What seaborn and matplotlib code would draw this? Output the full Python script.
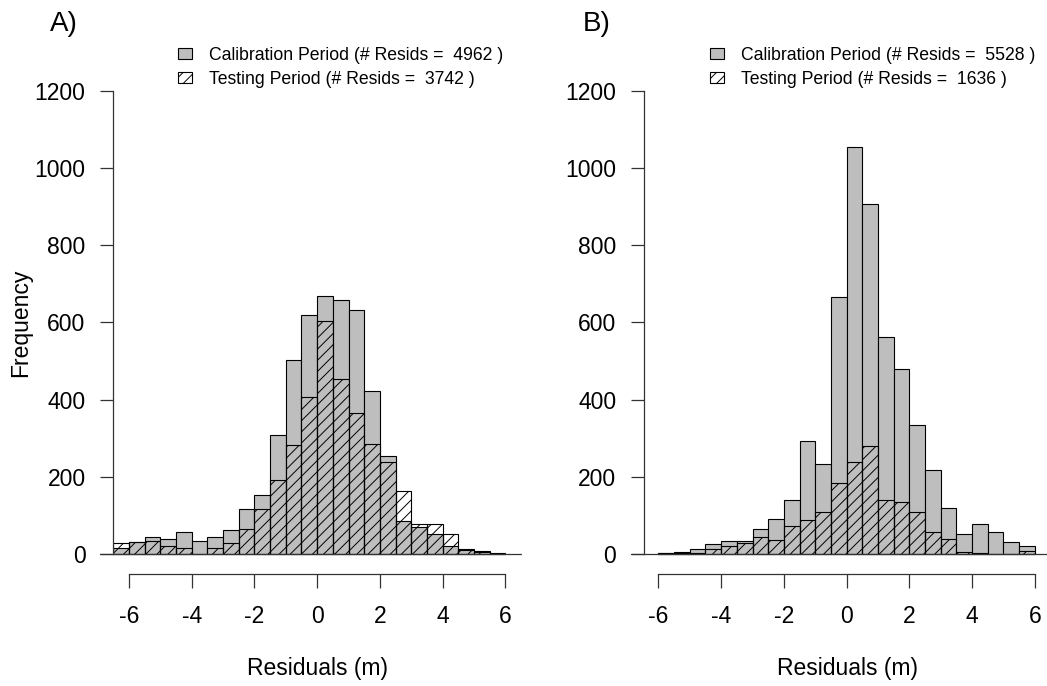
import numpy as np
import pandas as pd
import matplotlib
matplotlib.use('Agg')
import matplotlib.pyplot as plt
import seaborn as sns
from matplotlib.patches import Patch

sns.set_style('white')
plt.rcParams['font.family'] = ['Liberation Sans', 'DejaVu Sans']
plt.rcParams['hatch.linewidth'] = 0.7
plt.rcParams['hatch.color'] = '#333333'
plt.rcParams['axes.unicode_minus'] = False
plt.rcParams['text.color'] = 'black'
plt.rcParams['axes.labelcolor'] = 'black'
plt.rcParams['xtick.color'] = 'black'
plt.rcParams['ytick.color'] = 'black'

# panel A: bins of 0.5 m starting at -6.5
edges_a = np.arange(-6.5, 6.01, 0.5)
cal_a = [15, 32, 43, 40, 56, 34, 43, 63, 116, 153, 308, 502, 618,
         668, 657, 632, 423, 254, 85, 69, 53, 20, 10, 4, 1]
test_a = [28, 30, 34, 20, 16, 0, 16, 28, 66, 116, 191, 283, 406,
          603, 452, 366, 284, 237, 162, 78, 78, 51, 12, 9, 3]
n_cal_a = 4962
n_test_a = 3742

# panel B: bins of 0.5 m starting at -6
edges_b = np.arange(-6.0, 6.01, 0.5)
cal_b = [3, 6, 12, 26, 34, 34, 66, 91, 140, 293, 234, 666,
         1055, 907, 563, 479, 335, 217, 118, 53, 79, 56, 31, 20]
test_b = [2, 2, 3, 12, 22, 28, 43, 36, 73, 88, 110, 183,
          239, 279, 139, 134, 110, 56, 38, 6, 3, 0, 0, 9]
n_cal_b = 5528
n_test_b = 1636

gray = '#BEBEBE'
W, H = 1047, 686
fig = plt.figure(figsize=(W / 100, H / 100), dpi=100)

ax_a = fig.add_axes([113.3 / W, (H - 574.1) / H, 407.7 / W, 502.9 / H])
ax_b = fig.add_axes([644 / W, (H - 574.1) / H, 407.7 / W, 502.9 / H])


def draw_panel(ax, edges, cal, test, xlim):
    df = pd.DataFrame({'mid': (edges[:-1] + edges[1:]) / 2,
                       'cal': cal, 'test': test})
    sns.histplot(data=df, x='mid', weights='cal', bins=list(edges), ax=ax,
                 color=gray, edgecolor='black', linewidth=0.8, alpha=1)
    sns.histplot(data=df, x='mid', weights='test', bins=list(edges), ax=ax,
                 fill=False, color='black', hatch='///', linewidth=0.8)
    ax.set_xlim(xlim)
    ax.set_ylim(-52, 1250)
    ax.axhline(0, xmin=-0.032, xmax=1, color='#333333', lw=0.9, clip_on=False)
    for s in ['top', 'right']:
        ax.spines[s].set_visible(False)
    ax.spines['left'].set_bounds(0, 1200)
    ax.spines['bottom'].set_bounds(-6, 6)
    for s in ['left', 'bottom']:
        ax.spines[s].set_color('#333333')
        ax.spines[s].set_linewidth(0.9)
    ax.set_xticks([-6, -4, -2, 0, 2, 4, 6])
    ax.set_yticks([0, 200, 400, 600, 800, 1000, 1200])
    ax.tick_params(axis='y', length=9.5, width=0.9, color='#333333',
                   pad=10.5, labelsize=16.5, left=True)
    ax.tick_params(axis='x', length=10, width=0.9, color='#333333',
                   pad=12, labelsize=16.5, bottom=True)
    ax.set_xlabel('Residuals (m)', fontsize=16.5)
    ax.xaxis.set_label_coords(0.5, -0.165)
    ax.set_ylabel('')


draw_panel(ax_a, edges_a, cal_a, test_a, (-6.5, 6.5))
draw_panel(ax_b, edges_b, cal_b, test_b, (-6.46, 6.54))

ax_a.set_ylabel('Frequency', fontsize=16.5)
ax_a.yaxis.set_label_coords(-0.2, 0.5)

fig.text(50 / W, 1 - 11 / H, 'A)', fontsize=20, va='top', ha='left')
fig.text(583 / W, 1 - 11 / H, 'B)', fontsize=20, va='top', ha='left')


def add_legend(ax, x0, n_cal, n_test):
    handles = [Patch(facecolor=gray, edgecolor='black', linewidth=0.8),
               Patch(facecolor='white', edgecolor='black', hatch='///', linewidth=0.8)]
    labels = ['Calibration Period (# Resids =  %d )' % n_cal,
              'Testing Period (# Resids =  %d )' % n_test]
    ax.legend(handles, labels, loc='upper left',
              bbox_to_anchor=(x0 / W, 1 - 47 / H), bbox_transform=fig.transFigure,
              frameon=False, fontsize=12.7, borderpad=0, borderaxespad=0,
              handlelength=0.8, handleheight=0.6, handletextpad=0.95,
              labelspacing=0.4)


add_legend(ax_a, 178, n_cal_a, n_test_a)
add_legend(ax_b, 710, n_cal_b, n_test_b)

fig.savefig('out.png', dpi=100)
